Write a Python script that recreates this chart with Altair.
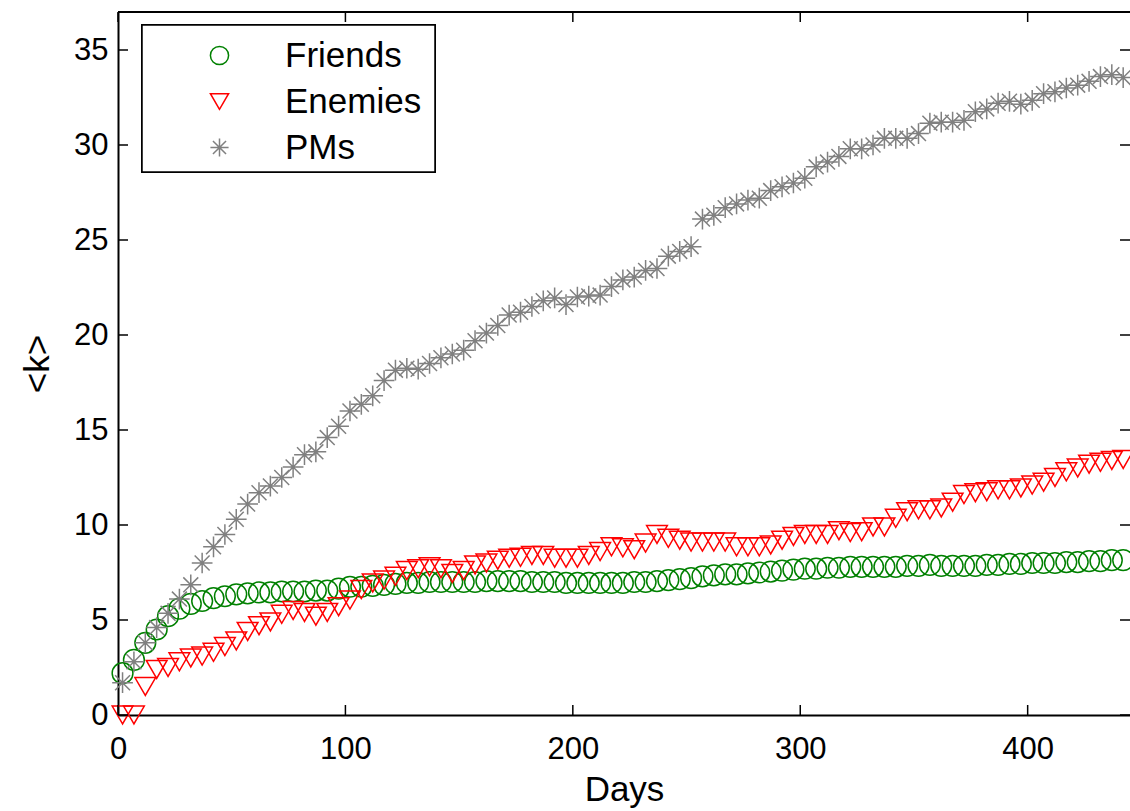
import altair as alt
import pandas as pd

FONT = "Liberation Sans"

# Average degree <k> sampled every five days
friends = [
    2.2, 2.9, 3.8, 4.5, 5.2, 5.6, 5.85, 6.0, 6.15, 6.25,
    6.35, 6.4, 6.45, 6.45, 6.5, 6.5, 6.5, 6.55, 6.55, 6.65,
    6.75, 6.75, 6.8, 6.85, 6.9, 6.95, 6.95, 7.0, 7.0, 7.0,
    7.0, 7.0, 7.05, 7.05, 7.05, 7.05, 7.0, 7.0, 7.0, 6.95,
    6.95, 6.95, 6.95, 6.95, 6.95, 7.0, 7.0, 7.05, 7.1, 7.15,
    7.2, 7.3, 7.35, 7.4, 7.4, 7.45, 7.5, 7.55, 7.6, 7.65,
    7.7, 7.7, 7.75, 7.75, 7.8, 7.8, 7.8, 7.8, 7.8, 7.85,
    7.85, 7.9, 7.85, 7.85, 7.85, 7.85, 7.9, 7.9, 7.95, 7.95,
    8.0, 8.0, 8.0, 8.05, 8.05, 8.1, 8.1, 8.15, 8.15,
]
enemies = [
    0.0, 0.0, 1.5, 2.4, 2.5, 2.8, 3.0, 3.1, 3.3, 3.6,
    3.9, 4.4, 4.7, 4.9, 5.3, 5.5, 5.4, 5.2, 5.4, 5.7,
    6.05, 6.6, 6.95, 7.1, 7.3, 7.6, 7.7, 7.8, 7.7, 7.45,
    7.6, 7.9, 8.0, 8.15, 8.25, 8.3, 8.4, 8.4, 8.25, 8.25,
    8.25, 8.4, 8.6, 8.85, 8.8, 8.7, 9.05, 9.5, 9.3, 9.2,
    9.1, 9.1, 9.1, 9.1, 8.85, 8.85, 8.85, 8.95, 9.2, 9.4,
    9.5, 9.5, 9.5, 9.7, 9.6, 9.65, 9.9, 9.9, 10.35, 10.7,
    10.8, 10.8, 10.9, 11.2, 11.6, 11.7, 11.75, 11.85, 11.85, 11.95,
    12.1, 12.25, 12.5, 12.8, 13.0, 13.2, 13.3, 13.4, 13.45,
]
pms = [
    1.7, 2.8, 3.8, 4.6, 5.35, 6.1, 6.85, 8.0, 8.85, 9.5,
    10.3, 11.1, 11.7, 12.05, 12.5, 13.05, 13.7, 13.85, 14.6, 15.2,
    16.0, 16.35, 16.8, 17.6, 18.15, 18.25, 18.2, 18.5, 18.8, 19.0,
    19.2, 19.7, 20.1, 20.5, 21.05, 21.2, 21.5, 21.8, 21.95, 21.6,
    22.0, 22.05, 22.1, 22.55, 22.9, 23.05, 23.4, 23.5, 24.15, 24.4,
    24.65, 26.1, 26.3, 26.7, 26.9, 27.1, 27.2, 27.6, 27.8, 28.0,
    28.25, 28.85, 29.1, 29.4, 29.8, 29.8, 30.0, 30.35, 30.35, 30.35,
    30.6, 31.15, 31.2, 31.2, 31.3, 31.75, 31.9, 32.2, 32.3, 32.15,
    32.35, 32.7, 32.8, 33.0, 33.15, 33.35, 33.6, 33.7, 33.55,
]
days = [2 + 5 * i for i in range(len(friends))]

series_names = ["Friends", "Enemies", "PMs"]
series_colors = ["#008000", "#ff0000", "#808080"]
star = "M0,-1L0,1M-1,0L1,0M-0.72,-0.72L0.72,0.72M-0.72,0.72L0.72,-0.72"
series_shapes = ["circle", "triangle-down", star]

x_ticks = [0, 100, 200, 300, 400]
y_ticks = [0, 5, 10, 15, 20, 25, 30, 35]

W, H = 1012, 703
TICK = 10

rows = []
for order, (name, vals) in enumerate(zip(series_names, [friends, enemies, pms])):
    for d, v in zip(days, vals):
        rows.append({"day": d, "k": v, "series": name, "order": order})
df = pd.DataFrame(rows)

xs = alt.Scale(domain=[0, 445], nice=False, zero=False)
ys = alt.Scale(domain=[0, 37], nice=False, zero=False)

x_axis = alt.Axis(
    values=x_ticks, ticks=False, tickSize=0, grid=False, domain=True,
    domainColor="black", domainWidth=2, labelFont=FONT, labelFontSize=31,
    labelColor="black", labelPadding=19, labelFlush=False,
    titleFont=FONT, titleFontSize=35, titleFontWeight="normal",
    titleColor="black", titlePadding=8, format="d",
)
y_axis = alt.Axis(
    values=y_ticks, ticks=False, tickSize=0, grid=False, domain=True,
    domainColor="black", domainWidth=2, labelFont=FONT, labelFontSize=31,
    labelColor="black", labelPadding=10, labelFlush=False,
    titleFont=FONT, titleFontSize=35, titleFontWeight="normal",
    titleColor="black", titlePadding=18, format="d",
)

X = alt.X("day:Q", scale=xs, axis=x_axis, title="Days")
Y = alt.Y("k:Q", scale=ys, axis=y_axis, title="<k>")

# series draw order: friends below, enemies, then PMs on top
points = alt.Chart(df).mark_point(filled=False, size=430, strokeWidth=1.5, opacity=1).encode(
    x=X,
    y=Y,
    color=alt.Color(
        "series:N",
        scale=alt.Scale(domain=series_names, range=series_colors),
        legend=alt.Legend(
            title=None, orient="none", legendX=24, legendY=18,
            labelFont=FONT, labelFontSize=35, labelColor="black",
            symbolSize=330, symbolStrokeWidth=1.5, symbolFillColor="transparent",
            rowPadding=10, padding=8, symbolOffset=52, labelOffset=48,
        ),
    ),
    shape=alt.Shape("series:N", scale=alt.Scale(domain=series_names, range=series_shapes)),
    order=alt.Order("order:Q"),
)

xt = pd.DataFrame({"day": x_ticks})
yt = pd.DataFrame({"k": y_ticks})

bottom_ticks = alt.Chart(xt).mark_rule(color="black", strokeWidth=1.5).encode(
    x=alt.X("day:Q", scale=xs, axis=x_axis, title="Days"),
    y=alt.value(H - TICK), y2=alt.value(H),
)
top_ticks = alt.Chart(xt).mark_rule(color="black", strokeWidth=1.5).encode(
    x=alt.X("day:Q", scale=xs, axis=x_axis, title="Days"),
    y=alt.value(0), y2=alt.value(TICK),
)
left_ticks = alt.Chart(yt).mark_rule(color="black", strokeWidth=1.5).encode(
    y=alt.Y("k:Q", scale=ys, axis=y_axis, title="<k>"),
    x=alt.value(0), x2=alt.value(TICK),
)
right_ticks = alt.Chart(yt).mark_rule(color="black", strokeWidth=1.5).encode(
    y=alt.Y("k:Q", scale=ys, axis=y_axis, title="<k>"),
    x=alt.value(W - TICK), x2=alt.value(W),
)
top_line = alt.Chart(xt).mark_rule(color="black", strokeWidth=2).encode(
    x=alt.value(0), x2=alt.value(W), y=alt.value(0),
)
legend_box = alt.Chart(xt).mark_rect(fill="white", stroke="black", strokeWidth=1.5).encode(
    x=alt.value(24), x2=alt.value(317), y=alt.value(13), y2=alt.value(160),
)

chart = alt.layer(
    points, bottom_ticks, top_ticks, left_ticks, right_ticks, top_line, legend_box
).properties(
    width=W, height=H,
    autosize=alt.AutoSizeParams(type="none"),
    padding={"left": 118, "top": 12, "right": 0, "bottom": 96},
).configure_view(stroke="transparent").configure(background="white")

chart.save("out.html", embed_options={"renderer": "svg", "actions": False})
